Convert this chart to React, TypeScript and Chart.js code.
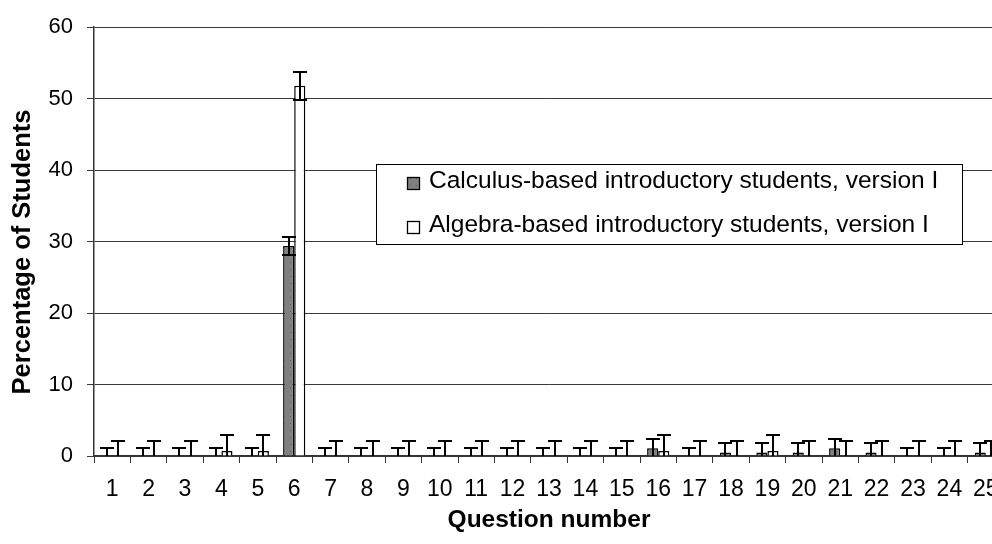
import React, { useEffect, useRef } from "react";
import { Chart, registerables } from "chart.js";

Chart.register(...registerables);

const questions = ["1","2","3","4","5","6","7","8","9","10","11","12","13","14","15","16","17","18","19","20","21","22","23","24","25"];
const calcValues = [0,0,0,0,0,29.4,0,0,0,0,0,0,0,0,0,1.1,0,0.5,0.5,0.5,1.1,0.5,0,0,0.5];
const calcErrors = [1.1,1.1,1.1,1.1,1.1,1.3,1.1,1.1,1.1,1.1,1.1,1.1,1.1,1.1,1.1,1.3,1.1,1.35,1.35,1.35,1.3,1.35,1.1,1.1,1.35];
const algValues = [0,0,0,0.7,0.7,51.8,0,0,0,0,0,0,0,0,0,0.7,0,0,0.7,0,0,0,0,0,0];
const algErrors = [2.1,2.1,2.1,2.2,2.2,2.0,2.1,2.1,2.1,2.1,2.1,2.1,2.1,2.1,2.1,2.2,2.1,2.1,2.2,2.1,2.1,2.1,2.1,2.1,2.1];
const seriesLabels = [
  "Calculus-based introductory students, version I",
  "Algebra-based introductory students, version I",
];
const yTicks = [0, 10, 20, 30, 40, 50, 60];
const xTitle = "Question number";
const yTitle = "Percentage of Students";

const FONT = "'Liberation Sans', Arial, Helvetica, sans-serif";

function makePattern(): CanvasPattern | string {
  const c = document.createElement("canvas");
  c.width = 6;
  c.height = 7;
  const g = c.getContext("2d");
  if (!g) return "#808080";
  g.fillStyle = "#808080";
  g.fillRect(0, 0, 6, 7);
  g.fillStyle = "#5a5a5a";
  g.fillRect(2, 3, 1, 1);
  const p = g.createPattern(c, "repeat");
  return p || "#808080";
}

export default function App() {
  const ref = useRef<HTMLCanvasElement | null>(null);

  useEffect(() => {
    const canvas = ref.current;
    if (!canvas) return;
    const pattern = makePattern();

    const errorBars = {
      id: "errorBars",
      afterDatasetsDraw(chart: any) {
        const { ctx, chartArea, scales } = chart;
        const y = scales.y;
        ctx.save();
        ctx.beginPath();
        ctx.rect(chartArea.left, chartArea.top - 30, chartArea.right - chartArea.left, chartArea.bottom - chartArea.top + 30);
        ctx.clip();
        ctx.strokeStyle = "#000";
        ctx.lineWidth = 2;
        chart.data.datasets.forEach((ds: any, di: number) => {
          const meta = chart.getDatasetMeta(di);
          meta.data.forEach((bar: any, i: number) => {
            const v = ds.data[i];
            const e = ds.errors[i];
            const x = Math.round(bar.x);
            const yt = Math.round(y.getPixelForValue(v + e));
            const yb = Math.round(y.getPixelForValue(v - e));
            ctx.beginPath();
            ctx.moveTo(x, yt);
            ctx.lineTo(x, yb);
            ctx.moveTo(x - 7, yt);
            ctx.lineTo(x + 7, yt);
            ctx.moveTo(x - 7, yb);
            ctx.lineTo(x + 7, yb);
            ctx.stroke();
          });
        });
        ctx.restore();
      },
    };

    const overlay = {
      id: "overlay",
      afterDraw(chart: any) {
        const { ctx, chartArea, scales } = chart;
        ctx.save();
        ctx.fillStyle = "#000";
        // x tick labels
        ctx.font = `23px ${FONT}`;
        ctx.textAlign = "center";
        ctx.textBaseline = "middle";
        questions.forEach((q, i) => {
          ctx.fillText(q, scales.x.getPixelForTick(i), 490);
        });
        // axis titles
        ctx.font = `bold 24.5px ${FONT}`;
        ctx.fillText(xTitle, (chartArea.left + chartArea.right) / 2, 520);
        ctx.save();
        ctx.translate(23, 252);
        ctx.rotate(-Math.PI / 2);
        ctx.font = `bold 25.5px ${FONT}`;
        ctx.fillText(yTitle, 0, 0);
        ctx.restore();

        // legend
        const lx = 376, ly = 164, lw = 586, lh = 80;
        ctx.fillStyle = "#fff";
        ctx.fillRect(lx, ly, lw, lh);
        ctx.strokeStyle = "#000";
        ctx.lineWidth = 1;
        ctx.strokeRect(lx + 0.5, ly + 0.5, lw, lh);
        const rows = [181, 225];
        const fills: any[] = [pattern, "#fff"];
        rows.forEach((ry, k) => {
          ctx.fillStyle = fills[k];
          ctx.fillRect(407, ry - 4, 13, 13);
          ctx.strokeStyle = "#000";
          ctx.lineWidth = 1.3;
          ctx.strokeRect(407.5, ry - 3.5, 12, 12);
          ctx.fillStyle = "#000";
          ctx.font = `24.5px ${FONT}`;
          ctx.textAlign = "left";
          ctx.textBaseline = "middle";
          ctx.fillText(seriesLabels[k], 429, ry);
        });
        ctx.restore();
      },
    };

    const chart = new Chart(canvas, {
      type: "bar",
      data: {
        labels: questions,
        datasets: [
          {
            label: seriesLabels[0],
            data: calcValues,
            errors: calcErrors,
            backgroundColor: pattern as any,
            borderColor: "#000",
            borderWidth: 1.5,
            categoryPercentage: 0.61,
            barPercentage: 1.0,
          } as any,
          {
            label: seriesLabels[1],
            data: algValues,
            errors: algErrors,
            backgroundColor: "#fff",
            borderColor: "#000",
            borderWidth: 1.5,
            categoryPercentage: 0.61,
            barPercentage: 1.0,
          } as any,
        ],
      },
      options: {
        animation: false,
        responsive: false,
        maintainAspectRatio: false,
        layout: { padding: { top: 23, right: 6, left: 0, bottom: 0 } },
        plugins: {
          legend: { display: false },
          tooltip: { enabled: false },
          title: { display: false },
        },
        scales: {
          x: {
            type: "category",
            grid: {
              display: true,
              drawOnChartArea: false,
              drawTicks: true,
              tickLength: 7,
              color: "#333",
              lineWidth: 1,
            },
            border: { display: true, color: "#333", width: 1.5 },
            ticks: {
              display: false,
              autoSkip: false,
              maxRotation: 0,
              minRotation: 0,
            },
            afterFit(scale: any) {
              scale.height = 88;
              scale.paddingLeft = 0;
              scale.paddingRight = 0;
            },
          },
          y: {
            min: 0,
            max: 60,
            afterBuildTicks(scale: any) {
              scale.ticks = yTicks.map((v) => ({ value: v }));
            },
            grid: {
              display: true,
              drawTicks: true,
              tickLength: 7,
              color: "#3a3a3a",
              lineWidth: 1,
            },
            border: { display: true, color: "#333", width: 1.5 },
            ticks: {
              color: "#000",
              font: { family: FONT, size: 22 },
              padding: 14,
            },
            afterFit(scale: any) {
              scale.width = 94;
            },
          },
        },
      },
      plugins: [errorBars, overlay],
    } as any);

    return () => {
      chart.destroy();
    };
  }, []);

  return (
    <div
      style={{
        position: "fixed",
        left: 0,
        top: 0,
        width: 992,
        height: 544,
        overflow: "hidden",
        background: "#fff",
      }}
    >
      <canvas ref={ref} width={1010} height={544} style={{ display: "block", width: 1010, height: 544 }} />
    </div>
  );
}
